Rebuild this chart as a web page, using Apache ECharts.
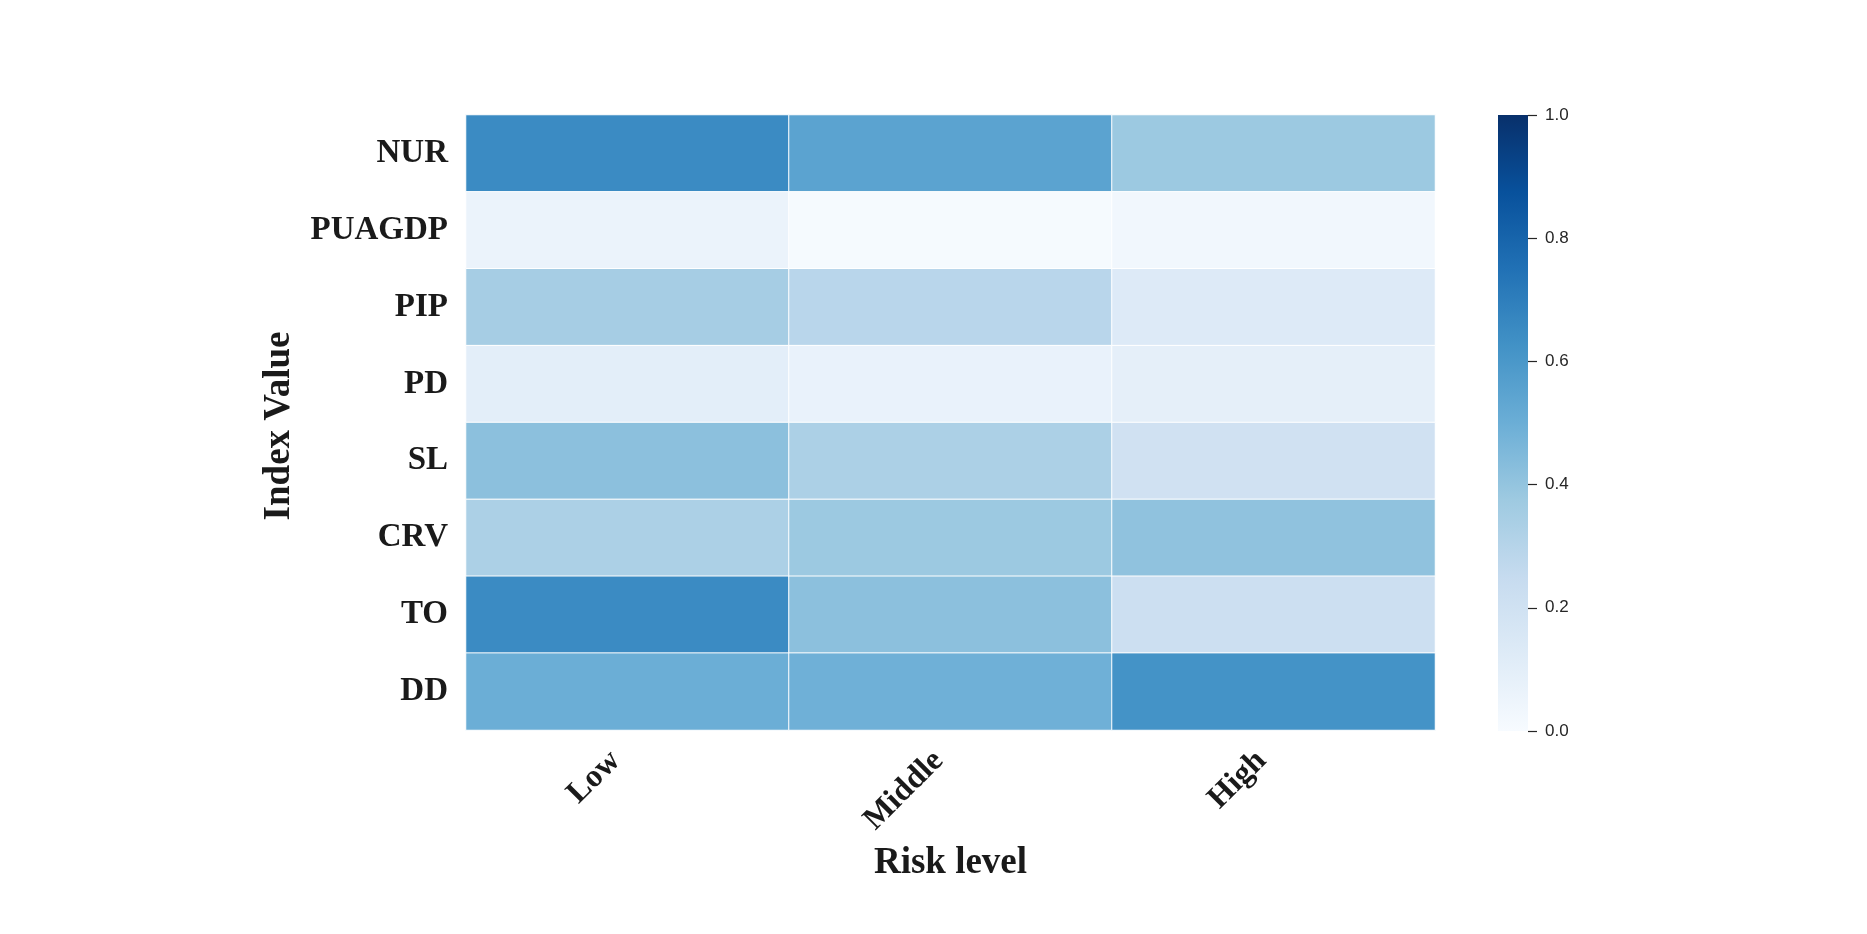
<!DOCTYPE html>
<html>
<head>
<meta charset="utf-8">
<title>Index Value by Risk level</title>
<script src="https://cdn.jsdelivr.net/npm/echarts@6/dist/echarts.min.js"></script>
<style>
  html, body { margin: 0; padding: 0; background: #ffffff; }
  #chart { width: 1867px; height: 934px; }
</style>
</head>
<body>
<div id="chart"></div>
<script>
// Categories
const riskLevels = ['Low', 'Middle', 'High'];
const indexNames = ['NUR', 'PUAGDP', 'PIP', 'PD', 'SL', 'CRV', 'TO', 'DD'];

// Values per risk level, in the order of indexNames
const lowValues    = [0.65, 0.06, 0.35, 0.10, 0.42, 0.33, 0.65, 0.50];
const middleValues = [0.55, 0.01, 0.29, 0.07, 0.33, 0.38, 0.42, 0.49];
const highValues   = [0.38, 0.03, 0.13, 0.09, 0.20, 0.41, 0.22, 0.62];

// Colour bar ticks
const colorbarTicks = [0.0, 0.2, 0.4, 0.6, 0.8, 1.0];

// Sequential blue palette, light to dark
const blues = ['#f7fbff', '#deebf7', '#c6dbef', '#9ecae1', '#6baed6',
               '#4292c6', '#2171b5', '#08519c', '#08306b'];

const columns = [lowValues, middleValues, highValues];
const heatData = [];
columns.forEach((vals, xi) => {
  vals.forEach((v, yi) => heatData.push([xi, yi, v]));
});

const serif = '"Liberation Serif", "DejaVu Serif", serif';
const sans = '"Liberation Sans", Arial, sans-serif';

const chart = echarts.init(document.getElementById('chart'), null, { renderer: 'canvas' });

chart.setOption({
  backgroundColor: '#ffffff',
  animation: false,
  grid: [
    { left: 466, right: 432, top: 115, bottom: 204 },
    { left: 1498, width: 30, top: 115, bottom: 203 }
  ],
  xAxis: [
    {
      type: 'category',
      gridIndex: 0,
      data: riskLevels,
      name: 'Risk level',
      nameLocation: 'middle',
      nameGap: 115,
      nameTextStyle: { fontFamily: serif, fontWeight: 'bold', fontSize: 37, color: '#1a1a1a' },
      axisLine: { show: false },
      axisTick: { show: false },
      splitLine: { show: false },
      axisLabel: {
        rotate: 45,
        margin: 14,
        padding: [0, 17, 0, 0],
        fontFamily: serif, fontWeight: 'bold', fontSize: 32, color: '#1a1a1a'
      }
    },
    {
      type: 'category',
      gridIndex: 1,
      data: [''],
      show: false
    }
  ],
  yAxis: [
    {
      type: 'category',
      gridIndex: 0,
      data: indexNames,
      inverse: true,
      name: 'Index Value',
      nameLocation: 'middle',
      nameGap: 168,
      nameRotate: 90,
      nameTextStyle: { fontFamily: serif, fontWeight: 'bold', fontSize: 37, color: '#1a1a1a', padding: [0, 7, 0, 0] },
      axisLine: { show: false },
      axisTick: { show: false },
      splitLine: { show: false },
      axisLabel: {
        margin: 18,
        fontFamily: serif, fontWeight: 'bold', fontSize: 33, color: '#1a1a1a'
      }
    },
    {
      type: 'value',
      gridIndex: 1,
      position: 'right',
      min: 0,
      max: 1,
      interval: 0.2,
      axisLine: { show: false },
      splitLine: { show: false },
      axisTick: { show: true, length: 9, lineStyle: { color: '#262626', width: 1.2 } },
      axisLabel: {
        margin: 17,
        fontFamily: sans, fontSize: 17, color: '#262626',
        formatter: v => (colorbarTicks.some(t => Math.abs(t - v) < 1e-9) ? v.toFixed(1) : '')
      }
    }
  ],
  visualMap: {
    show: false,
    type: 'continuous',
    seriesIndex: 0,
    dimension: 2,
    min: 0,
    max: 1,
    inRange: { color: blues }
  },
  series: [
    {
      type: 'heatmap',
      xAxisIndex: 0,
      yAxisIndex: 0,
      data: heatData,
      itemStyle: { borderColor: '#ffffff', borderWidth: 1 },
      emphasis: { disabled: true }
    },
    {
      // colour bar
      type: 'bar',
      xAxisIndex: 1,
      yAxisIndex: 1,
      data: [1],
      barWidth: '100%',
      silent: true,
      itemStyle: {
        color: {
          type: 'linear', x: 0, y: 0, x2: 0, y2: 1,
          colorStops: blues.slice().reverse().map((c, i, arr) => ({ offset: i / (arr.length - 1), color: c }))
        }
      }
    }
  ]
});
</script>
</body>
</html>
